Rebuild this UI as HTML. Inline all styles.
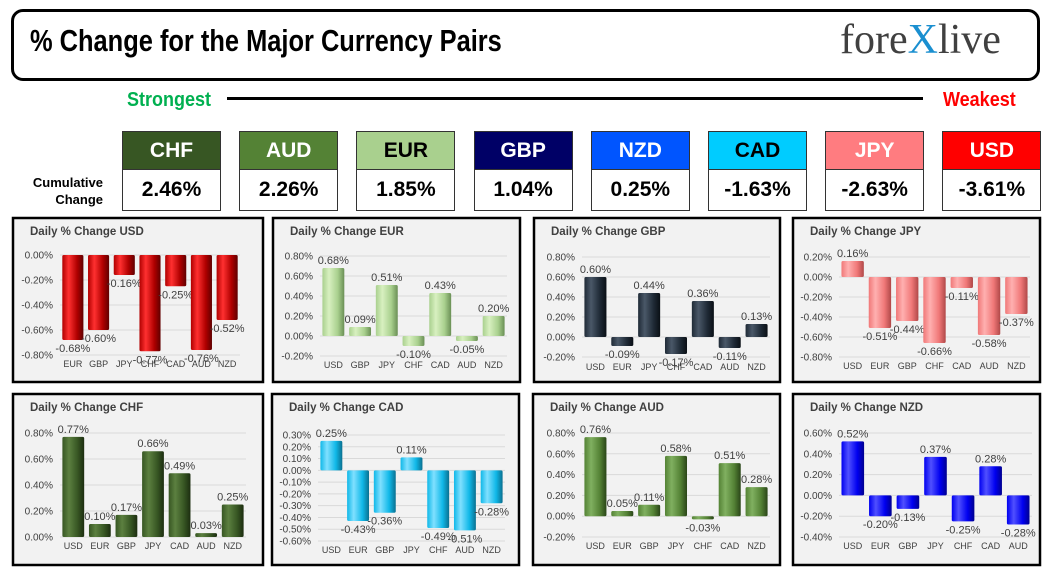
<!DOCTYPE html>
<html><head><meta charset="utf-8">
<style>
body{margin:0;background:#fff;width:1051px;height:575px;overflow:hidden;position:relative;font-family:"Liberation Sans",sans-serif}
.abs{position:absolute}
.cond{font-family:"Liberation Sans Narrow","Liberation Sans",sans-serif;font-weight:bold}
#title-box{left:11px;top:9px;width:1023px;height:66px;border:3px solid #000;border-radius:12px;box-sizing:content-box}
.ch{position:absolute;height:38px;width:97px;border:1px solid #333;text-align:center;line-height:38px;font-size:21px}
.cv{position:absolute;height:40px;width:97px;border:1px solid #333;text-align:center;line-height:40px;font-size:21px;background:#fff}
</style></head><body>
<div id="title-box" class="abs"></div>
<div class="abs cond" style="left:30px;top:23px;font-size:31px;white-space:nowrap;transform:scaleX(0.82);transform-origin:left top">% Change for the Major Currency Pairs</div>
<div class="abs" style="left:840px;top:16px;font-family:'Liberation Serif',serif;font-size:42px;color:#404040">fore<span style="color:#1a8fd0">X</span>live</div>
<div class="abs cond" style="left:127px;top:89px;font-size:20px;color:#00b050;transform:scaleX(0.9);transform-origin:left top">Strongest</div>
<div class="abs" style="left:227px;top:97px;width:696px;height:3px;background:#000"></div>
<div class="abs cond" style="left:943px;top:89px;font-size:20px;color:#ff0000;transform:scaleX(0.9);transform-origin:left top">Weakest</div>
<div class="abs cond" style="left:20px;top:174px;width:83px;text-align:right;font-size:13px;line-height:17px">Cumulative<br>Change</div>
<div id="boxes"></div>
<script>
const curNames=["CHF","AUD","EUR","GBP","NZD","CAD","JPY","USD"];
const curValues=["2.46%","2.26%","1.85%","1.04%","0.25%","-1.63%","-2.63%","-3.61%"];
const curColors=["#375623","#548235","#a9d08e","#000066","#0055ff","#00ccff","#ff7c80","#ff0000"];
const curText=["#fff","#fff","#000","#fff","#fff","#000","#fff","#fff"];
const bx=document.getElementById('boxes');
curNames.forEach((n,i)=>{
  const x=122+i*117.2;
  const h=document.createElement('div');h.className='ch cond';
  
  
  h.style.left=x+'px';h.style.top='131px';h.style.background=curColors[i];h.style.color=curText[i];h.textContent=n;bx.appendChild(h);
  const v=document.createElement('div');v.className='cv cond';
  
  
  v.style.left=x+'px';v.style.top='169px';v.textContent=curValues[i];bx.appendChild(v);
});

const usdCats=["EUR","GBP","JPY","CHF","CAD","AUD","NZD"];
const usdVals=[-0.68,-0.60,-0.16,-0.77,-0.25,-0.76,-0.52];
const eurCats=["USD","GBP","JPY","CHF","CAD","AUD","NZD"];
const eurVals=[0.68,0.09,0.51,-0.10,0.43,-0.05,0.20];
const gbpCats=["USD","EUR","JPY","CHF","CAD","AUD","NZD"];
const gbpVals=[0.60,-0.09,0.44,-0.17,0.36,-0.11,0.13];
const jpyCats=["USD","EUR","GBP","CHF","CAD","AUD","NZD"];
const jpyVals=[0.16,-0.51,-0.44,-0.66,-0.11,-0.58,-0.37];
const chfCats=["USD","EUR","GBP","JPY","CAD","AUD","NZD"];
const chfVals=[0.77,0.10,0.17,0.66,0.49,0.03,0.25];
const cadCats=["USD","EUR","GBP","JPY","CHF","AUD","NZD"];
const cadVals=[0.25,-0.43,-0.36,0.11,-0.49,-0.51,-0.28];
const audCats=["USD","EUR","GBP","JPY","CHF","CAD","NZD"];
const audVals=[0.76,0.05,0.11,0.58,-0.03,0.51,0.28];
const nzdCats=["USD","EUR","GBP","JPY","CHF","CAD","AUD"];
const nzdVals=[0.52,-0.20,-0.13,0.37,-0.25,0.28,-0.28];
const usdTicks=[0,-0.2,-0.4,-0.6,-0.8];
const eurTicks=[0.8,0.6,0.4,0.2,0,-0.2];
const gbpTicks=[0.8,0.6,0.4,0.2,0,-0.2];
const jpyTicks=[0.2,0,-0.2,-0.4,-0.6,-0.8];
const chfTicks=[0.8,0.6,0.4,0.2,0];
const cadTicks=[0.3,0.2,0.1,0,-0.1,-0.2,-0.3,-0.4,-0.5,-0.6];
const audTicks=[0.8,0.6,0.4,0.2,0,-0.2];
const nzdTicks=[0.6,0.4,0.2,0,-0.2,-0.4];

const panels=[
 {id:"usd",cats:usdCats,vals:usdVals,ticks:usdTicks,box:[12,217,252,166],top:255,bot:355,x0:60,x1:240,lab:367,c1:"#ff3030",c2:"#b00000",c3:"#600000"},
 {id:"eur",cats:eurCats,vals:eurVals,ticks:eurTicks,box:[272,217,249,166],top:256,bot:356,x0:320,x1:507,lab:368,c1:"#d8f0c0",c2:"#a9d08e",c3:"#6a8f55"},
 {id:"gbp",cats:gbpCats,vals:gbpVals,ticks:gbpTicks,box:[533,217,248,166],top:257,bot:357,x0:582,x1:770,lab:370,c1:"#4a5868",c2:"#1f2a36",c3:"#0a0f15"},
 {id:"jpy",cats:jpyCats,vals:jpyVals,ticks:jpyTicks,box:[792,217,249,166],top:257,bot:357,x0:839,x1:1030,lab:369,c1:"#ffb0b0",c2:"#f07878",c3:"#b04848"},
 {id:"chf",cats:chfCats,vals:chfVals,ticks:chfTicks,box:[12,393,252,173],top:433,bot:537,x0:60,x1:246,lab:549,c1:"#5c8040",c2:"#375623",c3:"#1c2d10"},
 {id:"cad",cats:cadCats,vals:cadVals,ticks:cadTicks,box:[271,393,249,173],top:435,bot:541,x0:318,x1:505,lab:553,c1:"#80e0ff",c2:"#10b8e8",c3:"#0a7090"},
 {id:"aud",cats:audCats,vals:audVals,ticks:audTicks,box:[532,393,249,173],top:433,bot:537,x0:582,x1:770,lab:549,c1:"#80b060",c2:"#548235",c3:"#2a4518"},
 {id:"nzd",cats:nzdCats,vals:nzdVals,ticks:nzdTicks,box:[792,393,249,173],top:433,bot:537,x0:839,x1:1032,lab:549,c1:"#5050ff",c2:"#0000f0",c3:"#000090"}
];
const NS="http://www.w3.org/2000/svg";
const svg=document.createElementNS(NS,'svg');
svg.setAttribute('width',1051);svg.setAttribute('height',575);
svg.setAttribute('style','position:absolute;left:0;top:0');


document.body.appendChild(svg);
const defs=document.createElementNS(NS,'defs');svg.appendChild(defs);
function mk(tag,attrs,parent){const e=document.createElementNS(NS,tag);for(const k in attrs)e.setAttribute(k,attrs[k]);(parent||svg).appendChild(e);return e;}
function fmt(v){return v.toFixed(2)+'%';}
panels.forEach(p=>{
  const g=mk('g',{});
  
  
  const [bxx,byy,bw,bh]=p.box;
  const r=mk('rect',{x:bxx+1,y:byy+1,width:bw-2,height:bh-2,fill:'#f2f2f2',stroke:'#000','stroke-width':2.5},g);
  
  
  const t=mk('text',{x:bxx+18,y:byy+18,'font-size':11.5,'font-weight':'bold',fill:'#404040','font-family':'Liberation Sans, sans-serif'},g);
  t.textContent='Daily % Change '+p.id.toUpperCase();
  
  
  const tmax=Math.max(...p.ticks),tmin=Math.min(...p.ticks);
  const y=v=>p.top+(tmax-v)/(tmax-tmin)*(p.bot-p.top);
  p.ticks.forEach(tv=>{
    const gl=mk('line',{x1:p.x0,x2:p.x1,y1:y(tv),y2:y(tv),stroke:'#d9d9d9','stroke-width':1},g);
    
    
    const tl=mk('text',{x:p.x0-7,y:y(tv)+3.5,'font-size':10,'text-anchor':'end',fill:'#404040','font-family':'Liberation Sans, sans-serif'},g);
    tl.textContent=fmt(tv);
    
    
  });
  const gid='grad-'+p.id;
  const lg=mk('linearGradient',{id:gid,x1:0,x2:1,y1:0,y2:0},defs);
  mk('stop',{offset:'0',  'stop-color':p.c2},lg);
  mk('stop',{offset:'0.3','stop-color':p.c1},lg);
  mk('stop',{offset:'0.7','stop-color':p.c2},lg);
  mk('stop',{offset:'1',  'stop-color':p.c3},lg);
  const n=p.cats.length,slot=(p.x1-p.x0)/n,bwid=slot*0.82;
  p.vals.forEach((v,i)=>{
    const cx=p.x0+slot*(i+0.5);
    const y0=y(0),yv=y(v);
    const b=mk('rect',{x:cx-bwid/2,y:Math.min(y0,yv),width:bwid,height:Math.max(1.5,Math.abs(yv-y0)),fill:'url(#'+gid+')',rx:1.5},g);
    
    
    const lv=mk('text',{x:cx,y:v>=0?yv-4:yv+12,'font-size':11,'text-anchor':'middle',fill:'#404040','font-family':'Liberation Sans, sans-serif'},g);
    lv.textContent=fmt(v);
    
    
    const cl=mk('text',{x:cx,y:p.lab,'font-size':9,'text-anchor':'middle',fill:'#404040','font-family':'Liberation Sans, sans-serif'},g);
    cl.textContent=p.cats[i];
    
    
  });
});
</script>
</body></html>
